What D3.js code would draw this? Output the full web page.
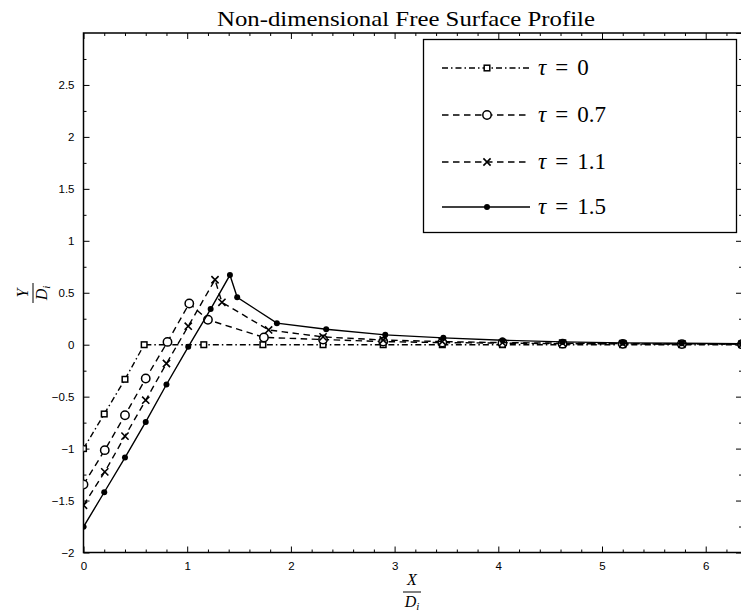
<!DOCTYPE html>
<html><head><meta charset="utf-8">
<script src="https://cdn.jsdelivr.net/npm/d3@7/dist/d3.min.js"></script>
<style>body{margin:0;background:#fff}svg{display:block}</style>
</head><body>
<script>
// ---- data ----
const xTickVals = [0, 1, 2, 3, 4, 5, 6];
const yTickVals = [-2, -1.5, -1, -0.5, 0, 0.5, 1, 1.5, 2, 2.5];
const seriesLabels = ["0", "0.7", "1.1", "1.5"];
const x_t0  = [0, 0.2, 0.4, 0.585, 1.16, 1.73, 2.31, 2.89, 3.46, 4.04, 4.62, 5.2, 5.77, 6.35];
const y_t0  = [-1, -0.667, -0.333, 0, 0, 0, 0, 0, 0, 0, 0, 0, 0, 0];
const x_t07 = [0, 0.205, 0.40, 0.60, 0.81, 1.02, 1.20, 1.74, 2.31, 2.89, 3.46, 4.04, 4.62, 5.2, 5.77, 6.35];
const y_t07 = [-1.346, -1.015, -0.679, -0.326, 0.027, 0.397, 0.240, 0.07, 0.05, 0.03, 0.02, 0.015, 0.01, 0.008, 0.006, 0.005];
const x_t11 = [0, 0.205, 0.40, 0.60, 0.80, 1.01, 1.268, 1.335, 1.785, 2.31, 2.89, 3.46, 4.04, 4.62, 5.2, 5.77, 6.35];
const y_t11 = [-1.545, -1.224, -0.88, -0.534, -0.181, 0.178, 0.625, 0.408, 0.142, 0.075, 0.045, 0.03, 0.02, 0.015, 0.01, 0.008, 0.006];
const x_t15 = [0, 0.2, 0.4, 0.6, 0.8, 1.01, 1.226, 1.412, 1.482, 1.865, 2.34, 2.91, 3.47, 4.04, 4.62, 5.2, 5.77, 6.35];
const y_t15 = [-1.753, -1.42, -1.086, -0.743, -0.383, -0.02, 0.343, 0.670, 0.457, 0.207, 0.149, 0.095, 0.066, 0.043, 0.027, 0.018, 0.014, 0.01];

const W = 741, H = 613;
const L = 83.5, R = 742, T = 33, B = 552.5;
const svg = d3.select("body").append("svg").attr("width", W).attr("height", H)
  .style("font-family", "'Liberation Sans', Arial, sans-serif");

const x = d3.scaleLinear().domain([0, 6.35]).range([L, R]);
const y = d3.scaleLinear().domain([-2, 3]).range([B, T]);

const minorX = d3.range(0, 6.36, 0.2).filter(v => Math.abs(v - Math.round(v)) > 1e-6);
const minorY = d3.range(-2, 3.01, 0.25).filter(v => Math.abs(v*2 - Math.round(v*2)) > 1e-6);

function styleAxis(g){ g.select(".domain").remove(); g.selectAll("line").attr("stroke","#000").attr("stroke-width",1); g.selectAll("text").attr("fill","#000").style("font-size","11.5px"); }

// major & minor ticks, inward
svg.append("g").attr("transform",`translate(0,${B})`)
  .call(d3.axisBottom(x).tickValues(xTickVals).tickSizeInner(-6).tickSizeOuter(0).tickPadding(9).tickFormat(d3.format("d")))
  .call(styleAxis);
svg.append("g").attr("transform",`translate(0,${B})`)
  .call(d3.axisBottom(x).tickValues(minorX).tickSize(-3).tickFormat("")).call(styleAxis);
svg.append("g").attr("transform",`translate(0,${T})`)
  .call(d3.axisTop(x).tickValues(xTickVals).tickSize(-6).tickFormat("")).call(styleAxis);
svg.append("g").attr("transform",`translate(0,${T})`)
  .call(d3.axisTop(x).tickValues(minorX).tickSize(-3).tickFormat("")).call(styleAxis);
svg.append("g").attr("transform",`translate(${L},0)`)
  .call(d3.axisLeft(y).tickValues(yTickVals).tickSizeInner(-6).tickSizeOuter(0).tickPadding(9).tickFormat(d3.format("")))
  .call(styleAxis);
svg.append("g").attr("transform",`translate(${L},0)`)
  .call(d3.axisLeft(y).tickValues(minorY).tickSize(-3).tickFormat("")).call(styleAxis);
svg.append("g").attr("transform",`translate(${R},0)`)
  .call(d3.axisRight(y).tickValues(yTickVals.concat([3])).tickSize(-6).tickFormat("")).call(styleAxis);
svg.append("g").attr("transform",`translate(${R},0)`)
  .call(d3.axisRight(y).tickValues(minorY).tickSize(-3).tickFormat("")).call(styleAxis);

// box
svg.append("rect").attr("x",L).attr("y",T).attr("width",R-L).attr("height",B-T)
  .attr("fill","none").attr("stroke","#000").attr("stroke-width",1.5);

// clip
svg.append("clipPath").attr("id","clip").append("rect").attr("x",L).attr("y",T).attr("width",R-L).attr("height",B-T);
const plot = svg.append("g").attr("clip-path","url(#clip)");

const series = [
  {xs:x_t0,  ys:y_t0,  dash:"6,3,1.5,3", marker:"square"},
  {xs:x_t07, ys:y_t07, dash:"6.5,4.5", marker:"circle"},
  {xs:x_t11, ys:y_t11, dash:"6.5,4.5", marker:"x"},
  {xs:x_t15, ys:y_t15, dash:null,  marker:"dot"}
];

const line = d3.line().x(d => x(d[0])).y(d => y(d[1]));

function drawMarker(g, type, cx, cy){
  if (type === "square") {
    g.append("rect").attr("x",cx-2.8).attr("y",cy-2.8).attr("width",5.6).attr("height",5.6)
      .attr("fill","#fff").attr("stroke","#000").attr("stroke-width",1.5);
  } else if (type === "circle") {
    g.append("circle").attr("cx",cx).attr("cy",cy).attr("r",4.2)
      .attr("fill","#fff").attr("stroke","#000").attr("stroke-width",1.5);
  } else if (type === "x") {
    const s = 3.6;
    g.append("path").attr("d",`M${cx-s},${cy-s}L${cx+s},${cy+s}M${cx-s},${cy+s}L${cx+s},${cy-s}`)
      .attr("stroke","#000").attr("stroke-width",1.6).attr("fill","none");
  } else {
    g.append("circle").attr("cx",cx).attr("cy",cy).attr("r",3).attr("fill","#000");
  }
}

series.forEach(s => {
  const pts = s.xs.map((v,i) => [v, s.ys[i]]);
  plot.append("path").datum(pts).attr("d", line).attr("fill","none")
    .attr("stroke","#000").attr("stroke-width",1.4)
    .attr("stroke-dasharray", s.dash);
  pts.forEach(p => drawMarker(plot, s.marker, x(p[0]), y(p[1])));
});

const serif = "'Liberation Serif','Times New Roman',serif";

// title
svg.append("text").attr("x",406).attr("y",26).attr("text-anchor","middle")
  .attr("textLength",378).attr("lengthAdjust","spacingAndGlyphs")
  .style("font-family",serif).style("font-size","22px")
  .text("Non-dimensional Free Surface Profile");

// legend
const lg = svg.append("g");
lg.append("rect").attr("x",423.5).attr("y",39.5).attr("width",313).attr("height",193)
  .attr("fill","#fff").attr("stroke","#000").attr("stroke-width",1.3);
const rowsY = [68, 115, 162, 207];
series.forEach((s,i) => {
  const yy = rowsY[i];
  lg.append("line").attr("x1",442).attr("x2",530).attr("y1",yy).attr("y2",yy)
    .attr("stroke","#000").attr("stroke-width",1.5).attr("stroke-dasharray", s.dash);
  drawMarker(lg, s.marker, 487, yy);
  const t = lg.append("text").attr("x",538).attr("y",yy+7)
    .style("font-family",serif).style("font-size","23px");
  t.append("tspan").style("font-style","italic").text("τ");
  t.append("tspan").attr("dx",9).text("=");
  t.append("tspan").attr("dx",9).text(seriesLabels[i]);
});

// axis labels (fractions)
const xl = svg.append("g").attr("transform","translate(412,0)");
xl.append("text").attr("x",0).attr("y",585).attr("text-anchor","middle")
  .style("font-family",serif).style("font-style","italic").style("font-size","16px").text("X");
xl.append("line").attr("x1",-9).attr("x2",9).attr("y1",592).attr("y2",592).attr("stroke","#000").attr("stroke-width",1);
const xd = xl.append("text").attr("x",0).attr("y",607).attr("text-anchor","middle")
  .style("font-family",serif).style("font-style","italic").style("font-size","16px");
xd.append("tspan").text("D");
xd.append("tspan").attr("dy",3).style("font-size","11px").text("i");

const yl = svg.append("g").attr("transform","translate(33,293) rotate(-90)");
yl.append("text").attr("x",0).attr("y",-5).attr("text-anchor","middle")
  .style("font-family",serif).style("font-style","italic").style("font-size","16px").text("Y");
yl.append("line").attr("x1",-10).attr("x2",10).attr("y1",0).attr("y2",0).attr("stroke","#000").attr("stroke-width",1);
const yd = yl.append("text").attr("x",0).attr("y",14).attr("text-anchor","middle")
  .style("font-family",serif).style("font-style","italic").style("font-size","16px");
yd.append("tspan").text("D");
yd.append("tspan").attr("dy",3).style("font-size","11px").text("i");
</script>
</body></html>
